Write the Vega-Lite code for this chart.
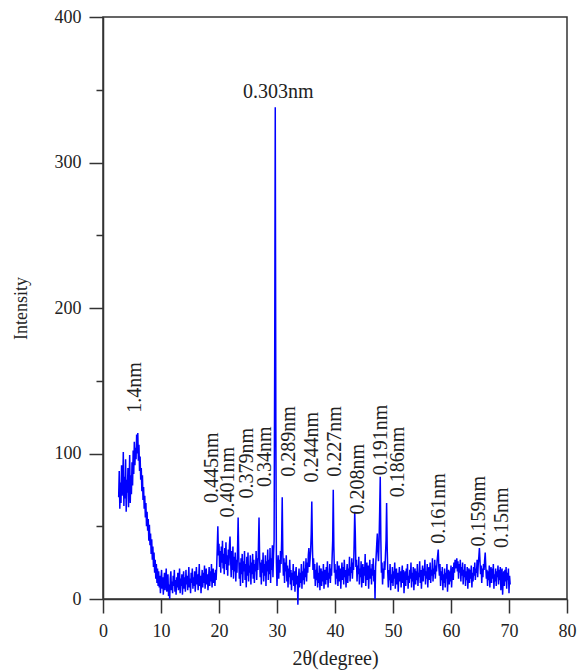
{
  "$schema": "https://vega.github.io/schema/vega-lite/v6.json",
  "width": 464,
  "height": 582,
  "autosize": "none",
  "padding": {"left": 103, "top": 17, "right": 10, "bottom": 71},
  "background": "white",
  "config": {
    "view": {"stroke": "#333333", "strokeWidth": 1.5},
    "font": "Liberation Serif",
    "axis": {
      "grid": false,
      "domainColor": "#333333",
      "domainWidth": 1.5,
      "tickColor": "#333333",
      "tickWidth": 1.5,
      "labelFont": "Liberation Serif",
      "labelFontSize": 18,
      "labelColor": "#222222",
      "titleFont": "Liberation Serif",
      "titleFontWeight": "normal",
      "titleColor": "#222222"
    }
  },
  "datasets": {
    "xrd": [
      {"x":2.7,"y":70},{"x":2.8,"y":88},{"x":2.9,"y":62},{"x":3.0,"y":80},{"x":3.1,"y":66},{"x":3.2,"y":92},{"x":3.3,"y":71},{"x":3.4,"y":78},{"x":3.5,"y":101},{"x":3.6,"y":64},{"x":3.7,"y":84},{"x":3.8,"y":69},{"x":3.9,"y":96},{"x":4.0,"y":60},{"x":4.1,"y":82},{"x":4.2,"y":73},{"x":4.3,"y":90},{"x":4.4,"y":63},{"x":4.5,"y":79},{"x":4.6,"y":99},{"x":4.7,"y":66},{"x":4.8,"y":85},{"x":4.9,"y":72},{"x":5.0,"y":94},
      {"x":5.1,"y":78},{"x":5.2,"y":102},{"x":5.3,"y":86},{"x":5.4,"y":108},{"x":5.5,"y":92},{"x":5.6,"y":104},{"x":5.7,"y":96},{"x":5.8,"y":113},{"x":5.9,"y":100},{"x":6.0,"y":114},{"x":6.1,"y":95},{"x":6.2,"y":106},{"x":6.3,"y":88},
      {"x":6.4,"y":98},{"x":6.5,"y":82},{"x":6.6,"y":90},{"x":6.7,"y":74},{"x":6.8,"y":85},{"x":6.9,"y":68},{"x":7.0,"y":77},{"x":7.1,"y":62},{"x":7.2,"y":71},{"x":7.3,"y":56},{"x":7.4,"y":66},{"x":7.5,"y":50},{"x":7.6,"y":60},{"x":7.7,"y":47},{"x":7.8,"y":55},{"x":7.9,"y":40},{"x":8.0,"y":51},{"x":8.1,"y":37},{"x":8.2,"y":45},{"x":8.3,"y":31},{"x":8.4,"y":41},{"x":8.5,"y":27},{"x":8.6,"y":36},{"x":8.7,"y":22},{"x":8.8,"y":32},{"x":8.9,"y":18},{"x":9.0,"y":27},{"x":9.1,"y":14},{"x":9.2,"y":24},{"x":9.3,"y":11},{"x":9.4,"y":21},{"x":9.5,"y":9},
      {"x":9.6,"y":19},{"x":9.7,"y":8},{"x":9.8,"y":16},{"x":9.9,"y":4},{"x":10.0,"y":14},{"x":10.1,"y":20},{"x":10.2,"y":7},{"x":10.3,"y":15},{"x":10.4,"y":3},{"x":10.5,"y":12},{"x":10.6,"y":18},{"x":10.7,"y":6},{"x":10.8,"y":13},{"x":10.9,"y":21},{"x":11.0,"y":5},{"x":11.1,"y":11},{"x":11.2,"y":17},{"x":11.3,"y":2},{"x":11.4,"y":10},{"x":11.5,"y":0},{"x":11.6,"y":14},{"x":11.7,"y":19},{"x":11.8,"y":6},{"x":11.9,"y":12},{"x":12.0,"y":4},{"x":12.1,"y":16},{"x":12.2,"y":9},{"x":12.3,"y":20},{"x":12.4,"y":5},{"x":12.5,"y":13},{"x":12.6,"y":3},{"x":12.7,"y":15},{"x":12.8,"y":8},{"x":12.9,"y":18},{"x":13.0,"y":6},{"x":13.1,"y":11},{"x":13.2,"y":21},{"x":13.3,"y":4},{"x":13.4,"y":14},{"x":13.5,"y":9},{"x":13.6,"y":17},{"x":13.7,"y":3},{"x":13.8,"y":12},{"x":13.9,"y":19},{"x":14.0,"y":7},{"x":14.1,"y":15},{"x":14.2,"y":5},{"x":14.3,"y":20},{"x":14.4,"y":10},{"x":14.5,"y":16},{"x":14.6,"y":6},{"x":14.7,"y":13},{"x":14.8,"y":22},{"x":14.9,"y":8},{"x":15.0,"y":14},{"x":15.1,"y":4},{"x":15.2,"y":18},{"x":15.3,"y":11},{"x":15.4,"y":21},{"x":15.5,"y":7},{"x":15.6,"y":15},{"x":15.7,"y":9},{"x":15.8,"y":19},{"x":15.9,"y":5},{"x":16.0,"y":13},{"x":16.1,"y":22},{"x":16.2,"y":10},{"x":16.3,"y":17},{"x":16.4,"y":6},{"x":16.5,"y":14},{"x":16.6,"y":24},{"x":16.7,"y":9},{"x":16.8,"y":16},{"x":16.9,"y":4},{"x":17.0,"y":12},{"x":17.1,"y":20},{"x":17.2,"y":8},{"x":17.3,"y":18},{"x":17.4,"y":11},{"x":17.5,"y":23},{"x":17.6,"y":7},{"x":17.7,"y":15},{"x":17.8,"y":21},{"x":17.9,"y":10},{"x":18.0,"y":17},{"x":18.1,"y":6},{"x":18.2,"y":14},{"x":18.3,"y":22},{"x":18.4,"y":9},{"x":18.5,"y":19},{"x":18.6,"y":12},{"x":18.7,"y":24},{"x":18.8,"y":8},{"x":18.9,"y":16},{"x":19.0,"y":21},{"x":19.1,"y":11},{"x":19.2,"y":18},{"x":19.3,"y":9},{"x":19.4,"y":20},{"x":19.5,"y":13},
      {"x":19.6,"y":22},{"x":19.7,"y":35},{"x":19.8,"y":50},{"x":19.9,"y":30},
      {"x":20.0,"y":38},{"x":20.1,"y":22},{"x":20.2,"y":33},{"x":20.3,"y":18},{"x":20.4,"y":36},{"x":20.5,"y":25},{"x":20.6,"y":40},{"x":20.7,"y":21},{"x":20.8,"y":31},{"x":20.9,"y":17},{"x":21.0,"y":35},{"x":21.1,"y":24},{"x":21.2,"y":39},{"x":21.3,"y":20},{"x":21.4,"y":30},{"x":21.5,"y":16},{"x":21.6,"y":34},{"x":21.7,"y":23},{"x":21.8,"y":37},{"x":21.9,"y":43},{"x":22.0,"y":28},{"x":22.1,"y":15},{"x":22.2,"y":33},{"x":22.3,"y":20},{"x":22.4,"y":36},{"x":22.5,"y":14},{"x":22.6,"y":29},{"x":22.7,"y":19},{"x":22.8,"y":32},{"x":22.9,"y":12},{"x":23.0,"y":27},{"x":23.1,"y":18},{"x":23.2,"y":35},{"x":23.3,"y":56},{"x":23.4,"y":30},{"x":23.5,"y":14},{"x":23.6,"y":25},{"x":23.7,"y":9},{"x":23.8,"y":28},{"x":23.9,"y":17},{"x":24.0,"y":31},{"x":24.1,"y":11},{"x":24.2,"y":26},{"x":24.3,"y":19},{"x":24.4,"y":33},{"x":24.5,"y":13},{"x":24.6,"y":24},{"x":24.7,"y":8},{"x":24.8,"y":29},{"x":24.9,"y":16},{"x":25.0,"y":32},{"x":25.1,"y":12},{"x":25.2,"y":23},{"x":25.3,"y":18},{"x":25.4,"y":30},{"x":25.5,"y":10},{"x":25.6,"y":25},{"x":25.7,"y":17},{"x":25.8,"y":31},{"x":25.9,"y":14},{"x":26.0,"y":27},{"x":26.1,"y":11},{"x":26.2,"y":24},{"x":26.3,"y":19},{"x":26.4,"y":33},{"x":26.5,"y":13},{"x":26.6,"y":28},{"x":26.7,"y":20},{"x":26.8,"y":36},{"x":26.9,"y":56},{"x":27.0,"y":29},{"x":27.1,"y":15},{"x":27.2,"y":25},{"x":27.3,"y":10},{"x":27.4,"y":27},{"x":27.5,"y":18},{"x":27.6,"y":32},{"x":27.7,"y":12},{"x":27.8,"y":24},{"x":27.9,"y":16},{"x":28.0,"y":30},{"x":28.1,"y":9},{"x":28.2,"y":26},{"x":28.3,"y":19},{"x":28.4,"y":34},{"x":28.5,"y":13},{"x":28.6,"y":27},{"x":28.7,"y":17},{"x":28.8,"y":35},{"x":28.9,"y":11},{"x":29.0,"y":28},{"x":29.1,"y":20},{"x":29.2,"y":37},{"x":29.3,"y":15},{"x":29.4,"y":30},{"x":29.5,"y":40},
      {"x":29.6,"y":160},{"x":29.7,"y":338},{"x":29.8,"y":120},{"x":29.9,"y":25},
      {"x":30.0,"y":9},{"x":30.1,"y":22},{"x":30.2,"y":30},{"x":30.3,"y":14},{"x":30.4,"y":27},{"x":30.5,"y":18},{"x":30.6,"y":33},{"x":30.7,"y":24},{"x":30.8,"y":40},{"x":30.9,"y":70},{"x":31.0,"y":32},{"x":31.1,"y":16},{"x":31.2,"y":28},{"x":31.3,"y":11},{"x":31.4,"y":25},{"x":31.5,"y":19},{"x":31.6,"y":30},{"x":31.7,"y":12},{"x":31.8,"y":23},{"x":31.9,"y":8},{"x":32.0,"y":21},{"x":32.1,"y":15},{"x":32.2,"y":27},{"x":32.3,"y":10},{"x":32.4,"y":20},{"x":32.5,"y":6},{"x":32.6,"y":18},{"x":32.7,"y":13},{"x":32.8,"y":24},{"x":32.9,"y":9},{"x":33.0,"y":19},{"x":33.1,"y":5},{"x":33.2,"y":17},{"x":33.3,"y":22},{"x":33.4,"y":10},{"x":33.5,"y":16},{"x":33.6,"y":-4},{"x":33.7,"y":14},{"x":33.8,"y":21},{"x":33.9,"y":8},{"x":34.0,"y":18},{"x":34.1,"y":11},{"x":34.2,"y":24},{"x":34.3,"y":7},{"x":34.4,"y":19},{"x":34.5,"y":13},{"x":34.6,"y":26},{"x":34.7,"y":10},{"x":34.8,"y":21},{"x":34.9,"y":15},{"x":35.0,"y":28},{"x":35.1,"y":12},{"x":35.2,"y":25},{"x":35.3,"y":18},{"x":35.4,"y":30},{"x":35.5,"y":35},{"x":35.6,"y":22},{"x":35.7,"y":27},{"x":35.8,"y":33},{"x":35.9,"y":45},{"x":36.0,"y":67},{"x":36.1,"y":38},{"x":36.2,"y":20},
      {"x":36.3,"y":28},{"x":36.4,"y":14},{"x":36.5,"y":24},{"x":36.6,"y":9},{"x":36.7,"y":20},{"x":36.8,"y":13},{"x":36.9,"y":25},{"x":37.0,"y":8},{"x":37.1,"y":18},{"x":37.2,"y":11},{"x":37.3,"y":23},{"x":37.4,"y":6},{"x":37.5,"y":17},{"x":37.6,"y":21},{"x":37.7,"y":9},{"x":37.8,"y":19},{"x":37.9,"y":12},{"x":38.0,"y":24},{"x":38.1,"y":7},{"x":38.2,"y":16},{"x":38.3,"y":20},{"x":38.4,"y":10},{"x":38.5,"y":22},{"x":38.6,"y":13},{"x":38.7,"y":26},{"x":38.8,"y":8},{"x":38.9,"y":18},{"x":39.0,"y":14},{"x":39.1,"y":24},{"x":39.2,"y":11},{"x":39.3,"y":21},{"x":39.4,"y":16},{"x":39.5,"y":28},{"x":39.6,"y":40},{"x":39.7,"y":75},{"x":39.8,"y":36},{"x":39.9,"y":18},
      {"x":40.0,"y":24},{"x":40.1,"y":10},{"x":40.2,"y":20},{"x":40.3,"y":14},{"x":40.4,"y":26},{"x":40.5,"y":9},{"x":40.6,"y":19},{"x":40.7,"y":23},{"x":40.8,"y":12},{"x":40.9,"y":21},{"x":41.0,"y":7},{"x":41.1,"y":17},{"x":41.2,"y":25},{"x":41.3,"y":13},{"x":41.4,"y":22},{"x":41.5,"y":10},{"x":41.6,"y":27},{"x":41.7,"y":15},{"x":41.8,"y":20},{"x":41.9,"y":8},{"x":42.0,"y":18},{"x":42.1,"y":24},{"x":42.2,"y":11},{"x":42.3,"y":21},{"x":42.4,"y":16},{"x":42.5,"y":29},{"x":42.6,"y":12},{"x":42.7,"y":22},{"x":42.8,"y":18},{"x":42.9,"y":28},{"x":43.0,"y":14},{"x":43.1,"y":25},{"x":43.2,"y":20},{"x":43.3,"y":38},{"x":43.4,"y":60},{"x":43.5,"y":45},{"x":43.6,"y":22},
      {"x":43.7,"y":27},{"x":43.8,"y":12},{"x":43.9,"y":23},{"x":44.0,"y":17},{"x":44.1,"y":29},{"x":44.2,"y":10},{"x":44.3,"y":21},{"x":44.4,"y":15},{"x":44.5,"y":26},{"x":44.6,"y":8},{"x":44.7,"y":19},{"x":44.8,"y":24},{"x":44.9,"y":11},{"x":45.0,"y":22},{"x":45.1,"y":16},{"x":45.2,"y":31},{"x":45.3,"y":9},{"x":45.4,"y":20},{"x":45.5,"y":25},{"x":45.6,"y":13},{"x":45.7,"y":23},{"x":45.8,"y":7},{"x":45.9,"y":18},{"x":46.0,"y":27},{"x":46.1,"y":14},{"x":46.2,"y":21},{"x":46.3,"y":10},{"x":46.4,"y":24},{"x":46.5,"y":16},{"x":46.6,"y":28},{"x":46.7,"y":12},{"x":46.8,"y":20},{"x":46.9,"y":0},{"x":47.0,"y":22},{"x":47.1,"y":30},{"x":47.2,"y":38},{"x":47.3,"y":45},{"x":47.4,"y":32},{"x":47.5,"y":26},{"x":47.6,"y":40},{"x":47.7,"y":60},{"x":47.8,"y":84},{"x":47.9,"y":42},{"x":48.0,"y":18},{"x":48.1,"y":25},{"x":48.2,"y":10},{"x":48.3,"y":21},{"x":48.4,"y":14},{"x":48.5,"y":26},{"x":48.6,"y":20},{"x":48.7,"y":30},{"x":48.8,"y":40},{"x":48.9,"y":66},{"x":49.0,"y":35},{"x":49.1,"y":18},
      {"x":49.2,"y":8},{"x":49.3,"y":20},{"x":49.4,"y":13},{"x":49.5,"y":24},{"x":49.6,"y":6},{"x":49.7,"y":17},{"x":49.8,"y":11},{"x":49.9,"y":22},{"x":50.0,"y":9},{"x":50.1,"y":19},{"x":50.2,"y":14},{"x":50.3,"y":25},{"x":50.4,"y":7},{"x":50.5,"y":16},{"x":50.6,"y":21},{"x":50.7,"y":10},{"x":50.8,"y":18},{"x":50.9,"y":5},{"x":51.0,"y":15},{"x":51.1,"y":22},{"x":51.2,"y":12},{"x":51.3,"y":19},{"x":51.4,"y":8},{"x":51.5,"y":17},{"x":51.6,"y":23},{"x":51.7,"y":11},{"x":51.8,"y":20},{"x":51.9,"y":4},{"x":52.0,"y":14},{"x":52.1,"y":19},{"x":52.2,"y":9},{"x":52.3,"y":21},{"x":52.4,"y":13},{"x":52.5,"y":24},{"x":52.6,"y":7},{"x":52.7,"y":16},{"x":52.8,"y":11},{"x":52.9,"y":20},{"x":53.0,"y":14},{"x":53.1,"y":25},{"x":53.2,"y":8},{"x":53.3,"y":18},{"x":53.4,"y":12},{"x":53.5,"y":22},{"x":53.6,"y":6},{"x":53.7,"y":17},{"x":53.8,"y":21},{"x":53.9,"y":10},{"x":54.0,"y":19},{"x":54.1,"y":13},{"x":54.2,"y":24},{"x":54.3,"y":9},{"x":54.4,"y":18},{"x":54.5,"y":15},{"x":54.6,"y":26},{"x":54.7,"y":11},{"x":54.8,"y":20},{"x":54.9,"y":7},{"x":55.0,"y":17},{"x":55.1,"y":23},{"x":55.2,"y":12},{"x":55.3,"y":21},{"x":55.4,"y":16},{"x":55.5,"y":27},{"x":55.6,"y":10},{"x":55.7,"y":19},{"x":55.8,"y":14},{"x":55.9,"y":24},{"x":56.0,"y":8},{"x":56.1,"y":18},{"x":56.2,"y":22},{"x":56.3,"y":13},{"x":56.4,"y":25},{"x":56.5,"y":11},{"x":56.6,"y":20},{"x":56.7,"y":16},{"x":56.8,"y":28},{"x":56.9,"y":12},{"x":57.0,"y":21},{"x":57.1,"y":17},{"x":57.2,"y":27},{"x":57.3,"y":14},{"x":57.4,"y":23},{"x":57.5,"y":19},{"x":57.6,"y":26},{"x":57.7,"y":30},{"x":57.8,"y":34},{"x":57.9,"y":22},{"x":58.0,"y":16},
      {"x":58.1,"y":24},{"x":58.2,"y":9},{"x":58.3,"y":19},{"x":58.4,"y":13},{"x":58.5,"y":22},{"x":58.6,"y":6},{"x":58.7,"y":17},{"x":58.8,"y":11},{"x":58.9,"y":21},{"x":59.0,"y":8},{"x":59.1,"y":18},{"x":59.2,"y":14},{"x":59.3,"y":24},{"x":59.4,"y":5},{"x":59.5,"y":15},{"x":59.6,"y":20},{"x":59.7,"y":10},{"x":59.8,"y":19},{"x":59.9,"y":12},{"x":60.0,"y":23},{"x":60.1,"y":8},{"x":60.2,"y":17},{"x":60.3,"y":22},{"x":60.4,"y":13},{"x":60.5,"y":25},{"x":60.6,"y":18},{"x":60.7,"y":27},{"x":60.8,"y":21},{"x":60.9,"y":24},{"x":61.0,"y":28},{"x":61.1,"y":19},{"x":61.2,"y":26},{"x":61.3,"y":14},{"x":61.4,"y":24},{"x":61.5,"y":18},{"x":61.6,"y":27},{"x":61.7,"y":12},{"x":61.8,"y":22},{"x":61.9,"y":16},{"x":62.0,"y":25},{"x":62.1,"y":10},{"x":62.2,"y":20},{"x":62.3,"y":15},{"x":62.4,"y":24},{"x":62.5,"y":9},{"x":62.6,"y":19},{"x":62.7,"y":13},{"x":62.8,"y":22},{"x":62.9,"y":7},{"x":63.0,"y":17},{"x":63.1,"y":21},{"x":63.2,"y":11},{"x":63.3,"y":20},{"x":63.4,"y":14},{"x":63.5,"y":23},{"x":63.6,"y":8},{"x":63.7,"y":18},{"x":63.8,"y":12},{"x":63.9,"y":22},{"x":64.0,"y":16},{"x":64.1,"y":25},{"x":64.2,"y":13},{"x":64.3,"y":21},{"x":64.4,"y":18},{"x":64.5,"y":27},{"x":64.6,"y":15},{"x":64.7,"y":24},{"x":64.8,"y":29},{"x":64.9,"y":35},{"x":65.0,"y":26},{"x":65.1,"y":17},{"x":65.2,"y":23},{"x":65.3,"y":11},{"x":65.4,"y":21},{"x":65.5,"y":15},{"x":65.6,"y":24},{"x":65.7,"y":20},{"x":65.8,"y":27},{"x":65.9,"y":32},{"x":66.0,"y":22},{"x":66.1,"y":14},{"x":66.2,"y":20},{"x":66.3,"y":9},{"x":66.4,"y":19},{"x":66.5,"y":13},{"x":66.6,"y":23},{"x":66.7,"y":8},{"x":66.8,"y":18},{"x":66.9,"y":22},{"x":67.0,"y":11},{"x":67.1,"y":21},{"x":67.2,"y":14},{"x":67.3,"y":24},{"x":67.4,"y":7},{"x":67.5,"y":17},{"x":67.6,"y":12},{"x":67.7,"y":21},{"x":67.8,"y":9},{"x":67.9,"y":19},{"x":68.0,"y":15},{"x":68.1,"y":23},{"x":68.2,"y":10},{"x":68.3,"y":20},{"x":68.4,"y":13},{"x":68.5,"y":22},{"x":68.6,"y":6},{"x":68.7,"y":16},{"x":68.8,"y":21},{"x":68.9,"y":3},{"x":69.0,"y":14},{"x":69.1,"y":19},{"x":69.2,"y":9},{"x":69.3,"y":20},{"x":69.4,"y":12},{"x":69.5,"y":22},{"x":69.6,"y":7},{"x":69.7,"y":18},{"x":69.8,"y":13},{"x":69.9,"y":21},{"x":70.0,"y":4},{"x":70.1,"y":16},{"x":70.2,"y":10}
    ],
    "peaks": [
      {"x":5.5,"y":128,"label":"1.4nm"},
      {"x":18.8,"y":66,"label":"0.445nm"},
      {"x":21.6,"y":56,"label":"0.401nm"},
      {"x":24.8,"y":69,"label":"0.379nm"},
      {"x":27.9,"y":77,"label":"0.34nm"},
      {"x":32.0,"y":84,"label":"0.289nm"},
      {"x":36.0,"y":80,"label":"0.244nm"},
      {"x":40.0,"y":84,"label":"0.227nm"},
      {"x":43.9,"y":58,"label":"0.208nm"},
      {"x":47.9,"y":85,"label":"0.191nm"},
      {"x":50.9,"y":70,"label":"0.186nm"},
      {"x":58.0,"y":38,"label":"0.161nm"},
      {"x":64.8,"y":36,"label":"0.159nm"},
      {"x":68.8,"y":35,"label":"0.15nm"}
    ],
    "main": [
      {"x":30.2,"y":344,"label":"0.303nm"}
    ]
  },
  "layer": [
    {
      "data": {"name": "xrd"},
      "mark": {"type": "line", "color": "#0000FF", "strokeWidth": 1.5, "clip": false},
      "encoding": {
        "x": {
          "field": "x", "type": "quantitative",
          "scale": {"domain": [0, 80], "nice": false, "zero": false},
          "axis": {
            "title": "2θ(degree)",
            "titleFontSize": 20,
            "titlePadding": 8,
            "values": [0, 10, 20, 30, 40, 50, 60, 70, 80],
            "tickSize": 14,
            "labelPadding": 9,
            "labelFlush": false
          }
        },
        "y": {
          "field": "y", "type": "quantitative",
          "scale": {"domain": [0, 400], "nice": false, "zero": false},
          "axis": {
            "title": "Intensity",
            "titleFontSize": 18,
            "titlePadding": 24,
            "values": [0, 50, 100, 150, 200, 250, 300, 350, 400],
            "labelExpr": "datum.value % 100 === 0 ? datum.label : ''",
            "tickSize": {"condition": {"test": "datum.value % 100 === 0", "value": 14}, "value": 7},
            "labelPadding": 8,
            "labelFlush": false
          }
        }
      }
    },
    {
      "data": {"name": "peaks"},
      "mark": {"type": "text", "angle": 270, "align": "left", "baseline": "middle", "font": "Liberation Serif", "fontSize": 20, "color": "#222222"},
      "encoding": {
        "x": {"field": "x", "type": "quantitative"},
        "y": {"field": "y", "type": "quantitative"},
        "text": {"field": "label"}
      }
    },
    {
      "data": {"name": "main"},
      "mark": {"type": "text", "align": "center", "baseline": "alphabetic", "font": "Liberation Serif", "fontSize": 20, "color": "#222222"},
      "encoding": {
        "x": {"field": "x", "type": "quantitative"},
        "y": {"field": "y", "type": "quantitative"},
        "text": {"field": "label"}
      }
    }
  ]
}
